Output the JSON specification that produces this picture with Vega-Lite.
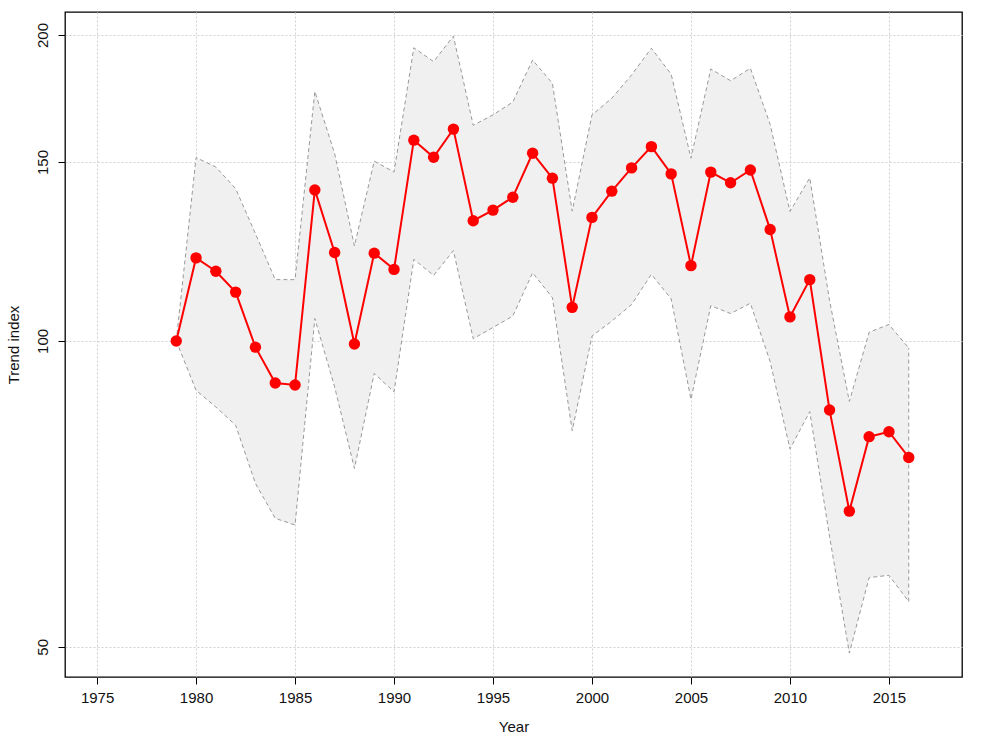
{
  "$schema": "https://vega.github.io/schema/vega-lite/v6.json",
  "autosize": {"type": "none"},
  "padding": {"left": 65, "top": 12, "right": 30, "bottom": 75},
  "width": 897,
  "height": 665,
  "background": "white",
  "config": {
    "view": {"stroke": "black", "strokeWidth": 1.3},
    "font": "Liberation Sans",
    "axis": {
      "labelFont": "Liberation Sans",
      "titleFont": "Liberation Sans",
      "labelFontSize": 15,
      "titleFontSize": 15,
      "titleFontWeight": "normal",
      "labelColor": "#111",
      "titleColor": "#111",
      "domain": false,
      "tickColor": "black",
      "tickSize": 7,
      "grid": true,
      "gridColor": "#d0d0d0",
      "gridDash": [2, 2],
      "gridWidth": 1
    }
  },
  "data": {
    "values": [
      {"year": 1979, "index": 100, "lower": 100, "upper": 100},
      {"year": 1980, "index": 120.7, "lower": 89.4, "upper": 151.5},
      {"year": 1981, "index": 117.1, "lower": 86.1, "upper": 148.3},
      {"year": 1982, "index": 111.7, "lower": 82.6, "upper": 141.2},
      {"year": 1983, "index": 98.6, "lower": 72.4, "upper": 127.5},
      {"year": 1984, "index": 90.9, "lower": 66.9, "upper": 114.9},
      {"year": 1985, "index": 90.5, "lower": 65.9, "upper": 114.9},
      {"year": 1986, "index": 140.8, "lower": 105.2, "upper": 176},
      {"year": 1987, "index": 122.2, "lower": 90.1, "upper": 152.9},
      {"year": 1988, "index": 99.3, "lower": 74.9, "upper": 124.0},
      {"year": 1989, "index": 122.0, "lower": 92.9, "upper": 150.3},
      {"year": 1990, "index": 117.6, "lower": 89.1, "upper": 146.6},
      {"year": 1991, "index": 157.6, "lower": 120.3, "upper": 194.3},
      {"year": 1992, "index": 151.6, "lower": 116.0, "upper": 188.3},
      {"year": 1993, "index": 161.6, "lower": 122.7, "upper": 199.5},
      {"year": 1994, "index": 131.3, "lower": 100.5, "upper": 163.0},
      {"year": 1995, "index": 134.5, "lower": 103.1, "upper": 166.9},
      {"year": 1996, "index": 138.5, "lower": 105.8, "upper": 171.8},
      {"year": 1997, "index": 153.0, "lower": 116.7, "upper": 189.0},
      {"year": 1998, "index": 144.6, "lower": 110.3, "upper": 179.3},
      {"year": 1999, "index": 107.9, "lower": 81.6, "upper": 134.2},
      {"year": 2000, "index": 132.3, "lower": 101.1, "upper": 166.9},
      {"year": 2001, "index": 140.4, "lower": 104.6, "upper": 173.3},
      {"year": 2002, "index": 148.0, "lower": 108.6, "upper": 182.7},
      {"year": 2003, "index": 155.3, "lower": 116.3, "upper": 194.1},
      {"year": 2004, "index": 146.0, "lower": 110.0, "upper": 183.0},
      {"year": 2005, "index": 118.6, "lower": 87.6, "upper": 151.3},
      {"year": 2006, "index": 146.6, "lower": 108.3, "upper": 185.2},
      {"year": 2007, "index": 143.1, "lower": 106.4, "upper": 180.3},
      {"year": 2008, "index": 147.3, "lower": 108.9, "upper": 185.5},
      {"year": 2009, "index": 128.7, "lower": 95.4, "upper": 163.3},
      {"year": 2010, "index": 105.6, "lower": 78.3, "upper": 134.1},
      {"year": 2011, "index": 114.9, "lower": 85.2, "upper": 144.7},
      {"year": 2012, "index": 85.5, "lower": 64.2, "upper": 109.6},
      {"year": 2013, "index": 68.0, "lower": 49.3, "upper": 87.2},
      {"year": 2014, "index": 80.5, "lower": 58.5, "upper": 102.0},
      {"year": 2015, "index": 81.4, "lower": 58.8, "upper": 103.8},
      {"year": 2016, "index": 76.8, "lower": 55.4, "upper": 98.4}
    ]
  },
  "encoding": {
    "x": {
      "field": "year",
      "type": "quantitative",
      "scale": {"domain": [1973.38, 2018.69], "nice": false, "zero": false},
      "axis": {
        "title": "Year",
        "values": [1975, 1980, 1985, 1990, 1995, 2000, 2005, 2010, 2015],
        "format": "d",
        "labelPadding": 6,
        "titlePadding": 14
      }
    }
  },
  "layer": [
    {
      "mark": {"type": "area", "color": "#f0f0f0", "opacity": 1},
      "encoding": {
        "y": {
          "field": "lower",
          "type": "quantitative",
          "scale": {"type": "log", "domain": [46.7, 210.7], "nice": false, "zero": false},
          "axis": {
            "title": "Trend index",
            "values": [50, 100, 150, 200],
            "labelAngle": -90,
            "labelAlign": "center",
            "labelBaseline": "bottom",
            "labelPadding": 8,
            "titlePadding": 14
          }
        },
        "y2": {"field": "upper"}
      }
    },
    {
      "mark": {"type": "line", "color": "#999999", "strokeWidth": 1, "strokeDash": [4, 3]},
      "encoding": {"y": {"field": "upper", "type": "quantitative"}}
    },
    {
      "mark": {"type": "line", "color": "#999999", "strokeWidth": 1, "strokeDash": [4, 3]},
      "encoding": {"y": {"field": "lower", "type": "quantitative"}}
    },
    {
      "transform": [{"filter": "datum.year == 2016"}],
      "mark": {"type": "rule", "color": "#999999", "strokeWidth": 1, "strokeDash": [4, 3]},
      "encoding": {"y": {"field": "lower", "type": "quantitative"}, "y2": {"field": "upper"}}
    },
    {
      "mark": {"type": "line", "color": "#ff0000", "strokeWidth": 2},
      "encoding": {"y": {"field": "index", "type": "quantitative"}}
    },
    {
      "mark": {"type": "point", "filled": true, "color": "#ff0000", "opacity": 1, "size": 130},
      "encoding": {"y": {"field": "index", "type": "quantitative"}}
    }
  ]
}
